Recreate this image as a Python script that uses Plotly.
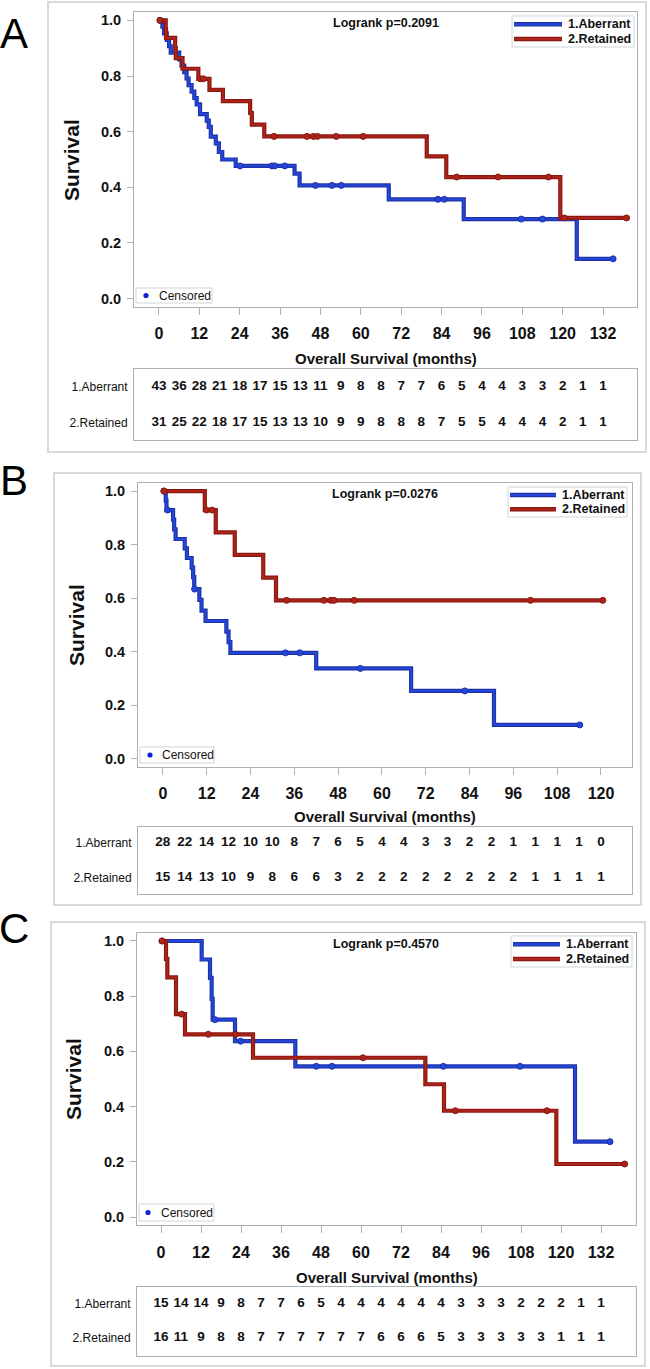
import numpy as np
import plotly.graph_objects as go

W, H = 650, 1369

# ---------------- DATA ----------------
series_names = ["1.Aberrant", "2.Retained"]
pvalues = ["Logrank p=0.2091", "Logrank p=0.0276", "Logrank p=0.4570"]
panel_letters = ["A", "B", "C"]

# Panel A
A_ab_t = [0, 1.0, 1.5, 2.3, 3.0, 3.5, 6.0, 6.7, 7.5, 8.2, 8.8, 9.7, 10.5, 11.2, 12.2, 14.2, 14.8, 15.4,
          16.9, 17.8, 18.8, 22.8, 40.3, 41.8, 68.3, 90.6, 124.2]
A_ab_s = [1.0, 0.977, 0.953, 0.930, 0.907, 0.884, 0.860, 0.837, 0.814, 0.791, 0.767, 0.744, 0.721, 0.698,
          0.663, 0.640, 0.617, 0.582, 0.558, 0.527, 0.500, 0.477, 0.449, 0.407, 0.357, 0.286, 0.143]
A_ab_cens = [0.3, 24.1, 33.6, 34.4, 37.4, 46.5, 51.4, 54.2, 82.9, 84.8, 107.7, 114.0, 135.0]
A_re_t = [0, 2.0, 2.1, 4.8, 5.0, 7.0, 11.7, 15.0, 19.0, 27.1, 27.6, 31.3, 79.6, 85.4, 119.3]
A_re_s = [1.0, 0.968, 0.937, 0.900, 0.864, 0.826, 0.790, 0.750, 0.710, 0.667, 0.625, 0.583, 0.511, 0.437, 0.290]
A_re_cens = [0.3, 12.3, 13.2, 34.2, 44.0, 45.9, 47.1, 52.7, 60.7, 88.5, 100.8, 115.8, 120.5, 139.0]
A_ab_risk = [43, 36, 28, 21, 18, 17, 15, 13, 11, 9, 8, 8, 7, 7, 6, 5, 4, 4, 3, 3, 2, 1, 1]
A_re_risk = [31, 25, 22, 18, 17, 15, 13, 13, 10, 9, 9, 8, 8, 8, 7, 5, 5, 4, 4, 4, 2, 1, 1]
A_xticks = [0, 12, 24, 36, 48, 60, 72, 84, 96, 108, 120, 132]

# Panel B
B_ab_t = [0, 0.8, 1.0, 2.8, 3.1, 3.5, 6.0, 6.6, 7.9, 8.3, 8.6, 10.0, 10.6, 11.7, 17.4, 18.0, 18.5, 42.0, 68.0, 90.7]
B_ab_s = [1.0, 0.964, 0.929, 0.893, 0.857, 0.821, 0.786, 0.750, 0.714, 0.679, 0.634, 0.594, 0.554, 0.515,
          0.475, 0.436, 0.396, 0.338, 0.254, 0.127]
B_ab_cens = [0.3, 1.3, 8.7, 33.6, 37.5, 54.1, 82.7, 114.2]
B_re_t = [0, 11.5, 14.5, 19.7, 27.5, 31.0]
B_re_s = [1.0, 0.929, 0.846, 0.762, 0.677, 0.592]
B_re_cens = [0.3, 12.0, 13.5, 33.9, 44.1, 46.0, 46.9, 52.4, 100.7, 120.5]
B_ab_risk = [28, 22, 14, 12, 10, 10, 8, 7, 6, 5, 4, 4, 3, 3, 2, 2, 1, 1, 1, 1, 0]
B_re_risk = [15, 14, 13, 10, 9, 8, 6, 6, 3, 2, 2, 2, 2, 2, 2, 2, 2, 1, 1, 1, 1]
B_xticks = [0, 12, 24, 36, 48, 60, 72, 84, 96, 108, 120]

# Panel C
C_ab_t = [0, 12.2, 14.7, 15.2, 15.5, 22.2, 40.3, 124.2]
C_ab_s = [1.0, 0.933, 0.866, 0.790, 0.715, 0.637, 0.546, 0.273]
C_ab_cens = [0.3, 16.2, 23.9, 46.6, 51.3, 84.7, 107.7, 134.7]
C_re_t = [0, 1.5, 1.9, 4.5, 7.2, 27.6, 79.3, 84.9, 118.6]
C_re_s = [1.0, 0.935, 0.868, 0.735, 0.662, 0.577, 0.481, 0.385, 0.192]
C_re_cens = [0.3, 6.2, 14.2, 22.3, 60.6, 88.3, 115.8, 139.1]
C_ab_risk = [15, 14, 14, 9, 8, 7, 7, 6, 5, 4, 4, 4, 4, 4, 4, 3, 3, 3, 2, 2, 2, 1, 1]
C_re_risk = [16, 11, 9, 8, 8, 7, 7, 7, 7, 7, 7, 6, 6, 6, 5, 3, 3, 3, 3, 3, 1, 1, 1]
C_xticks = [0, 12, 24, 36, 48, 60, 72, 84, 96, 108, 120, 132]

y_ticks = [0.0, 0.2, 0.4, 0.6, 0.8, 1.0]
risk_step = 6

# ---------------- STYLE / LAYOUT ----------------
FONT = "Liberation Sans, Arial, sans-serif"
BLUE_OUT, BLUE_IN = "#1f33a8", "#2447dc"
RED_OUT, RED_IN = "#8a1710", "#ad2519"
BOX = "#a9b3b3"
FRAME = "#d3dbdb"


def px(x):
    return x / W


def py(y):
    return 1 - y / H


panels = [
    dict(t=[(A_ab_t, A_ab_s, A_ab_cens), (A_re_t, A_re_s, A_re_cens)], risk=[A_ab_risk, A_re_risk],
         xticks=A_xticks, plot=(134, 637, 12, 307), xr=[-7.43, 142.1], risk_box=(369, 440), rrange=[-0.47, 1.5],
         frame=(48, 646, 2, 452), letter=(14, 33), surv=(71, 160), xtitle=359, logrank=(386, 23),
         legend=(512, 634, 16, 47, 514, 562, 566), cens=(136, 212, 288, 303, 146, 157)),
    dict(t=[(B_ab_t, B_ab_s, B_ab_cens), (B_re_t, B_re_s, B_re_cens)], risk=[B_ab_risk, B_re_risk],
         xticks=B_xticks, plot=(138, 632, 483, 767), xr=[-6.8, 128.5], risk_box=(827, 894), rrange=[-0.457, 1.457],
         frame=(54, 641, 473, 905), letter=(14, 481), surv=(76, 625), xtitle=817, logrank=(385, 494),
         legend=(508, 627, 487, 517, 510, 556, 560), cens=(140, 214, 747, 763, 150, 160)),
    dict(t=[(C_ab_t, C_ab_s, C_ab_cens), (C_re_t, C_re_s, C_re_cens)], risk=[C_ab_risk, C_re_risk],
         xticks=C_xticks, plot=(137, 636, 932.7, 1225.3), xr=[-7.2, 142.5], risk_box=(1287, 1356),
         rrange=[-0.53, 1.5],
         frame=(51, 645, 922, 1366), letter=(14, 928), surv=(73, 1079), xtitle=1277, logrank=(386, 944),
         legend=(511, 632, 936, 967, 513, 560, 564), cens=(139, 214, 1204, 1221, 148, 159)),
]

fig = go.Figure()
shapes = []
annotations = []
layout_axes = {}

colors = [(BLUE_OUT, BLUE_IN), (RED_OUT, RED_IN)]

for i, p in enumerate(panels):
    xa = 2 * i + 1
    ra = 2 * i + 2
    xname = "x" if xa == 1 else f"x{xa}"
    yname = "y" if xa == 1 else f"y{xa}"
    rxname, ryname = f"x{ra}", f"y{ra}"
    l, r, t, b = p["plot"]

    # curves
    for k, (tt, ss, cc) in enumerate(p["t"]):
        tt = np.array(tt, float)
        ss = np.array(ss, float)
        end = max(max(cc), tt[-1])
        xs = list(tt) + [end]
        ys = list(ss) + [ss[-1]]
        co, ci = colors[k]
        fig.add_trace(go.Scatter(x=xs, y=ys, mode="lines", line=dict(color=co, width=4.2, shape="hv"),
                                 xaxis=xname, yaxis=yname, showlegend=False, hoverinfo="skip"))
        fig.add_trace(go.Scatter(x=xs, y=ys, mode="lines", line=dict(color=ci, width=1.8, shape="hv"),
                                 xaxis=xname, yaxis=yname, showlegend=False, name=series_names[k]))
        cy = ss[np.searchsorted(tt, np.array(cc), side="right") - 1]
        fig.add_trace(go.Scatter(x=cc, y=cy, mode="markers",
                                 marker=dict(color=ci, size=6, line=dict(color=co, width=1)),
                                 xaxis=xname, yaxis=yname, showlegend=False, hoverinfo="skip"))

    # risk table
    for k, counts in enumerate(p["risk"]):
        times = [risk_step * j for j in range(len(counts))]
        fig.add_trace(go.Scatter(x=times, y=[1 - k] * len(counts), mode="text", text=[str(c) for c in counts],
                                 textfont=dict(family=FONT, size=13.5, color="#111111", weight="bold"),
                                 textposition="middle center",
                                 xaxis=rxname, yaxis=ryname, showlegend=False, hoverinfo="skip"))

    dom_x = [px(l), px(r)]
    layout_axes[f"xaxis{'' if xa == 1 else xa}"] = dict(
        domain=dom_x, range=p["xr"], tickmode="array", tickvals=p["xticks"],
        ticktext=[str(v) for v in p["xticks"]], ticks="outside", ticklen=7, tickcolor=BOX, tickwidth=1,
        showline=True, linecolor=BOX, mirror=True, showgrid=False, zeroline=False,
        tickfont=dict(family=FONT, size=16, color="#111111", weight="bold"), ticklabelstandoff=5,
        anchor=yname, fixedrange=True)
    layout_axes[f"yaxis{'' if xa == 1 else xa}"] = dict(
        domain=[py(b), py(t)], range=[-0.03, 1.03], tickmode="array", tickvals=y_ticks,
        ticktext=[f"{v:.1f}" for v in y_ticks], ticks="outside", ticklen=6, tickcolor=BOX, tickwidth=1,
        showline=True, linecolor=BOX, mirror=True, showgrid=False, zeroline=False,
        tickfont=dict(family=FONT, size=14.5, color="#111111", weight="bold"), ticklabelstandoff=3,
        anchor=xname, fixedrange=True)
    rt, rb = p["risk_box"]
    layout_axes[f"xaxis{ra}"] = dict(domain=dom_x, range=p["xr"], showticklabels=False, ticks="",
                                     showline=True, linecolor=BOX, mirror=True, showgrid=False,
                                     zeroline=False, anchor=ryname, fixedrange=True)
    layout_axes[f"yaxis{ra}"] = dict(domain=[py(rb), py(rt)], range=p["rrange"], tickmode="array",
                                     tickvals=[1, 0], ticktext=series_names, ticks="",
                                     tickfont=dict(family=FONT, size=12, color="#111111"),
                                     ticklabelstandoff=3,
                                     showline=True, linecolor=BOX, mirror=True, showgrid=False,
                                     zeroline=False, anchor=rxname, fixedrange=True)

    # outer frame
    fl, fr, ft, fb = p["frame"]
    shapes.append(dict(type="rect", xref="paper", yref="paper", x0=px(fl), x1=px(fr), y0=py(fb), y1=py(ft),
                       line=dict(color=FRAME, width=2), layer="below"))

    # legend box (series)
    ll, lr, lt, lb, s0, s1, tx = p["legend"]
    shapes.append(dict(type="rect", xref="paper", yref="paper", x0=px(ll), x1=px(lr), y0=py(lb), y1=py(lt),
                       line=dict(color="#cfd6d6", width=1), fillcolor="white"))
    rows = [lt + (lb - lt) * 0.27, lt + (lb - lt) * 0.74]
    for k in range(2):
        co, ci = colors[k]
        shapes.append(dict(type="line", xref="paper", yref="paper", x0=px(s0), x1=px(s1),
                           y0=py(rows[k]), y1=py(rows[k]), line=dict(color=co, width=4.5)))
        shapes.append(dict(type="line", xref="paper", yref="paper", x0=px(s0), x1=px(s1),
                           y0=py(rows[k]), y1=py(rows[k]), line=dict(color=ci, width=2)))
        annotations.append(dict(text=series_names[k], xref="paper", yref="paper", x=px(tx), y=py(rows[k]),
                                xanchor="left", yanchor="middle", showarrow=False,
                                font=dict(family=FONT, size=12.5, color="#111111", weight="bold")))

    # censored legend
    cl, cr, ct, cb, dx, ctx = p["cens"]
    shapes.append(dict(type="rect", xref="paper", yref="paper", x0=px(cl), x1=px(cr), y0=py(cb), y1=py(ct),
                       line=dict(color="#cfd6d6", width=1), fillcolor="white"))
    cm = (ct + cb) / 2
    shapes.append(dict(type="circle", xref="paper", yref="paper", x0=px(dx - 2.6), x1=px(dx + 2.6),
                       y0=py(cm + 2.6), y1=py(cm - 2.6), fillcolor="#1020d8", line=dict(color="#1020d8", width=0)))
    annotations.append(dict(text="Censored", xref="paper", yref="paper", x=px(ctx), y=py(cm),
                            xanchor="left", yanchor="middle", showarrow=False,
                            font=dict(family=FONT, size=12, color="#111111")))

    # texts
    lx, ly = p["letter"]
    annotations.append(dict(text=panel_letters[i], xref="paper", yref="paper", x=px(lx), y=py(ly),
                            xanchor="center", yanchor="middle", showarrow=False,
                            font=dict(family=FONT, size=42, color="#000000")))
    sx, sy = p["surv"]
    annotations.append(dict(text="Survival", xref="paper", yref="paper", x=px(sx), y=py(sy), textangle=-90,
                            xanchor="center", yanchor="middle", showarrow=False,
                            font=dict(family=FONT, size=21, color="#111111", weight="bold")))
    annotations.append(dict(text="Overall Survival (months)", xref="paper", yref="paper",
                            x=px((l + r) / 2), y=py(p["xtitle"]), xanchor="center", yanchor="middle",
                            showarrow=False, font=dict(family=FONT, size=15, color="#111111", weight="bold")))
    gx, gy = p["logrank"]
    annotations.append(dict(text=pvalues[i], xref="paper", yref="paper", x=px(gx), y=py(gy),
                            xanchor="center", yanchor="middle", showarrow=False,
                            font=dict(family=FONT, size=12.5, color="#111111", weight="bold")))

fig.update_layout(width=W, height=H, margin=dict(l=0, r=0, t=0, b=0), paper_bgcolor="white",
                  plot_bgcolor="white", showlegend=False, shapes=shapes, annotations=annotations,
                  **layout_axes)

fig.write_html("out.html", config={"displayModeBar": False},
               post_script="document.body.style.margin='0px';document.body.style.overflow='hidden';")
